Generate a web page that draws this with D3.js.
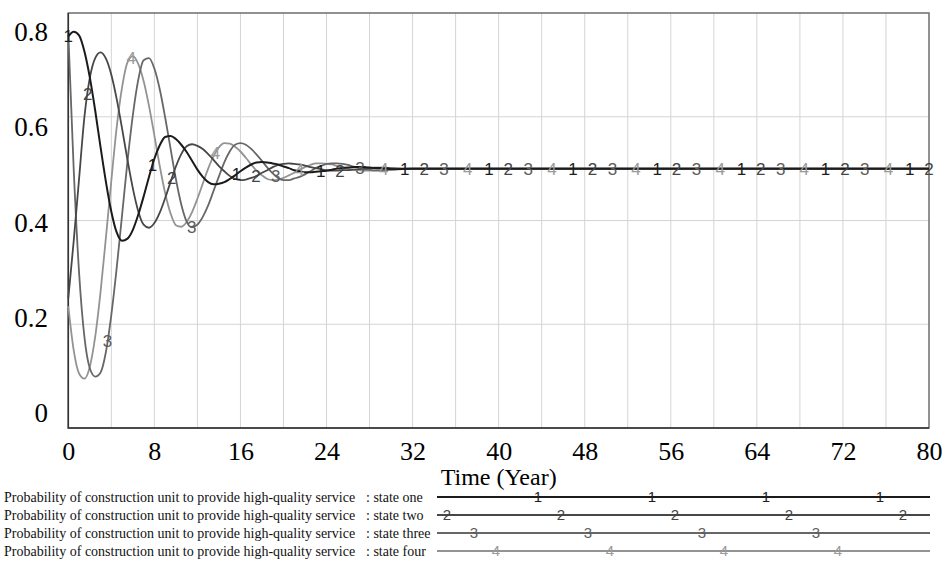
<!DOCTYPE html>
<html>
<head>
<meta charset="utf-8">
<script src="https://cdn.jsdelivr.net/npm/d3@7/dist/d3.min.js"></script>
<style>
body { margin: 0; background: #fff; }
svg { display: block; }
</style>
</head>
<body>
<script>
var width = 943;
var height = 585;
var plot = {"left": 68.3, "right": 929, "top": 13, "bottom": 428};   //plot frame

// simulation output, one value every half year from 0 to 30, then flat to 80
var years = d3.range(0, 30.5, 0.5).concat([32, 80]);

var stateOne = [0.755,0.764,0.757,0.726,0.676,0.612,0.541,0.474,0.417,0.377,0.361,0.365,0.382,0.411,0.446,0.484,
    0.519,0.545,0.561,0.563,0.557,0.546,0.532,0.515,0.498,0.484,0.474,0.470,0.471,0.474,0.480,0.487,0.495,0.502,
    0.508,0.512,0.513,0.512,0.510,0.508,0.504,0.501,0.497,0.495,0.493,0.493,0.494,0.495,0.496,0.498,0.500,0.501,
    0.502,0.503,0.503,0.503,0.502,0.501,0.501,0.500,0.499,0.500,0.500];
var stateTwo = [0.250,0.360,0.480,0.600,0.675,0.713,0.724,0.712,0.681,0.634,0.577,0.517,0.462,0.418,0.392,0.386,
    0.395,0.415,0.443,0.474,0.504,0.528,0.543,0.547,0.544,0.538,0.528,0.517,0.505,0.495,0.486,0.480,0.478,0.479,
    0.482,0.486,0.492,0.497,0.503,0.507,0.509,0.510,0.509,0.508,0.506,0.503,0.501,0.499,0.497,0.496,0.496,0.497,
    0.497,0.498,0.499,0.500,0.501,0.502,0.502,0.502,0.501,0.500,0.500];
var stateThree = [0.760,0.500,0.300,0.175,0.115,0.099,0.107,0.147,0.218,0.309,0.411,0.514,0.603,0.671,0.709,0.713,
    0.693,0.653,0.599,0.539,0.480,0.431,0.398,0.387,0.392,0.407,0.429,0.457,0.485,0.512,0.533,0.546,0.549,0.546,
    0.538,0.527,0.515,0.502,0.491,0.482,0.478,0.478,0.481,0.484,0.489,0.495,0.501,0.505,0.509,0.510,0.510,0.509,
    0.507,0.504,0.502,0.499,0.498,0.496,0.496,0.497,0.498,0.500,0.500];
var stateFour = [0.235,0.150,0.105,0.095,0.118,0.176,0.263,0.368,0.477,0.580,0.657,0.705,0.717,0.702,0.669,0.621,
    0.564,0.505,0.453,0.414,0.391,0.388,0.397,0.416,0.442,0.471,0.500,0.524,0.541,0.549,0.548,0.542,0.533,0.521,
    0.508,0.496,0.487,0.480,0.478,0.479,0.482,0.487,0.492,0.498,0.503,0.507,0.510,0.510,0.509,0.508,0.505,0.503,
    0.500,0.498,0.497,0.496,0.496,0.497,0.498,0.499,0.500,0.500,0.500];

var seriesNames = ["state one", "state two", "state three", "state four"];
var seriesValues = [stateOne, stateTwo, stateThree, stateFour];
var seriesMarks = ["1", "2", "3", "4"];
var lineColors = ["#1b1b1b", "#474747", "#676767", "#939393"];
var markColors = ["#1e1e1e", "#444444", "#5c5c5c", "#9a9a9a"];
var markFirst = [0, 1.8, 3.65, 5.85];           //year of the first number mark of each line
var markStep = 7.82;                             //years between two marks of the same line
var legendMarkFirst = [538, 447, 474, 496];      //x of the first mark on each legend line
var legendMarkStep = 114;
var legendText = "Probability of construction unit to provide high-quality service";

var xTicks = [0, 8, 16, 24, 32, 40, 48, 56, 64, 72, 80];
var yTicks = [0, 0.2, 0.4, 0.6, 0.8];
var xGridYears = d3.range(4, 80, 4);
var yGridValues = [0.2, 0.4, 0.6];

var x = d3.scaleLinear().domain([0, 80]).range([plot.left, plot.right]);
var y = d3.scaleLinear().domain([0, 0.8]).range([plot.bottom, plot.top]);
// the value labels of the vertical axis sit a bit inside the frame
var yLabel = d3.scaleLinear().domain([0, 0.8]).range([413, 32]);

var svg = d3.select("body").append("svg")
    .attr("width", width)
    .attr("height", height);

//grid
svg.append("g").selectAll("line").data(xGridYears).enter().append("line")
    .attr("x1", function (d) { return x(d); })
    .attr("x2", function (d) { return x(d); })
    .attr("y1", plot.top)
    .attr("y2", plot.bottom)
    .attr("stroke", "#d4d4d4")
    .attr("stroke-width", 1);
svg.append("g").selectAll("line").data(yGridValues).enter().append("line")
    .attr("x1", plot.left)
    .attr("x2", plot.right)
    .attr("y1", function (d) { return y(d); })
    .attr("y2", function (d) { return y(d); })
    .attr("stroke", "#d4d4d4")
    .attr("stroke-width", 1);

//frame
svg.append("rect")
    .attr("x", plot.left)
    .attr("y", plot.top)
    .attr("width", plot.right - plot.left)
    .attr("height", plot.bottom - plot.top)
    .attr("fill", "none")
    .attr("stroke", "#6e6e6e")
    .attr("stroke-width", 1.5);
svg.append("path")
    .attr("d", "M" + plot.left + "," + plot.top + "V" + plot.bottom + "H" + plot.right)
    .attr("fill", "none")
    .attr("stroke", "#333")
    .attr("stroke-width", 1.5);

//axes labels
var yAxis = d3.axisLeft(yLabel).tickValues(yTicks).tickSize(0).tickPadding(0)
    .tickFormat(function (d) { return String(d); });
var gy = svg.append("g")
    .attr("transform", "translate(48,0)")
    .call(yAxis);
gy.select(".domain").remove();
gy.selectAll("text")
    .attr("font-family", "'Liberation Serif', 'Times New Roman', serif")
    .attr("font-size", 27)
    .attr("fill", "#000");

var xAxis = d3.axisBottom(x).tickValues(xTicks).tickSize(0).tickPadding(0);
var gx = svg.append("g")
    .attr("transform", "translate(0," + plot.bottom + ")")
    .call(xAxis);
gx.select(".domain").remove();
gx.selectAll("text")
    .attr("y", 23)
    .attr("dy", "0.35em")
    .attr("font-family", "'Liberation Serif', 'Times New Roman', serif")
    .attr("font-size", 26)
    .attr("fill", "#000");

svg.append("text")
    .attr("x", (plot.left + plot.right) / 2)
    .attr("y", 485)
    .attr("text-anchor", "middle")
    .attr("font-family", "'Liberation Serif', 'Times New Roman', serif")
    .attr("font-size", 24)
    .attr("fill", "#000")
    .text("Time (Year)");

//value of a line at any year, read between two saved points
function valueAt(values, t) {
    var i = d3.bisectLeft(years, t);
    if (i <= 0) return values[0];
    if (i >= years.length) return values[values.length - 1];
    var t0 = years[i - 1], t1 = years[i];
    return values[i - 1] + (values[i] - values[i - 1]) * (t - t0) / (t1 - t0);
}

function markYears(s) {
    var list = [];
    for (var t = markFirst[s]; t <= 80.2; t += markStep) {
        list.push(Math.min(t, 80));
    }
    return list;
}

var line = d3.line()
    .x(function (d, i) { return x(years[i]); })
    .y(function (d) { return y(d); })
    .curve(d3.curveMonotoneX);

//lines, last one drawn first so that state one is on top
for (var s = 3; s >= 0; s--) {
    svg.append("path")
        .attr("class", "series" + (s + 1))
        .attr("d", line(seriesValues[s]))
        .attr("fill", "none")
        .attr("stroke", lineColors[s])
        .attr("stroke-width", s == 0 ? 2 : 1.8);
}

//number marks on the lines
for (var s = 0; s < 4; s++) {
    svg.append("g").selectAll("text").data(markYears(s)).enter().append("text")
        .attr("x", function (d) { return x(d); })
        .attr("y", function (d) { return y(valueAt(seriesValues[s], d)); })
        .attr("dy", "0.36em")
        .attr("text-anchor", "middle")
        .attr("font-family", "'Liberation Sans', Arial, sans-serif")
        .attr("font-size", 17)
        .attr("fill", markColors[s])
        .text(seriesMarks[s]);
}

//legend
var legendRowY = d3.scaleLinear().domain([0, 3]).range([497, 551]);
var legendLine = {"x1": 437, "x2": 930};
for (var s = 0; s < 4; s++) {
    var ry = legendRowY(s);
    svg.append("text")
        .attr("x", 4)
        .attr("y", ry)
        .attr("dy", "0.35em")
        .attr("font-family", "'Liberation Serif', 'Times New Roman', serif")
        .attr("font-size", 14)
        .attr("fill", "#111")
        .text(legendText);
    svg.append("text")
        .attr("x", 366)
        .attr("y", ry)
        .attr("dy", "0.35em")
        .attr("font-family", "'Liberation Serif', 'Times New Roman', serif")
        .attr("font-size", 14)
        .attr("fill", "#111")
        .text(": " + seriesNames[s]);
    svg.append("line")
        .attr("x1", legendLine.x1)
        .attr("x2", legendLine.x2)
        .attr("y1", ry)
        .attr("y2", ry)
        .attr("stroke", lineColors[s])
        .attr("stroke-width", 1.8);
    svg.append("g").selectAll("text")
        .data(d3.range(legendMarkFirst[s], legendLine.x2, legendMarkStep))
        .enter().append("text")
        .attr("x", function (d) { return d; })
        .attr("y", ry)
        .attr("dy", "0.36em")
        .attr("text-anchor", "middle")
        .attr("font-family", "'Liberation Sans', Arial, sans-serif")
        .attr("font-size", 15)
        .attr("fill", markColors[s])
        .text(seriesMarks[s]);
}
</script>
</body>
</html>
